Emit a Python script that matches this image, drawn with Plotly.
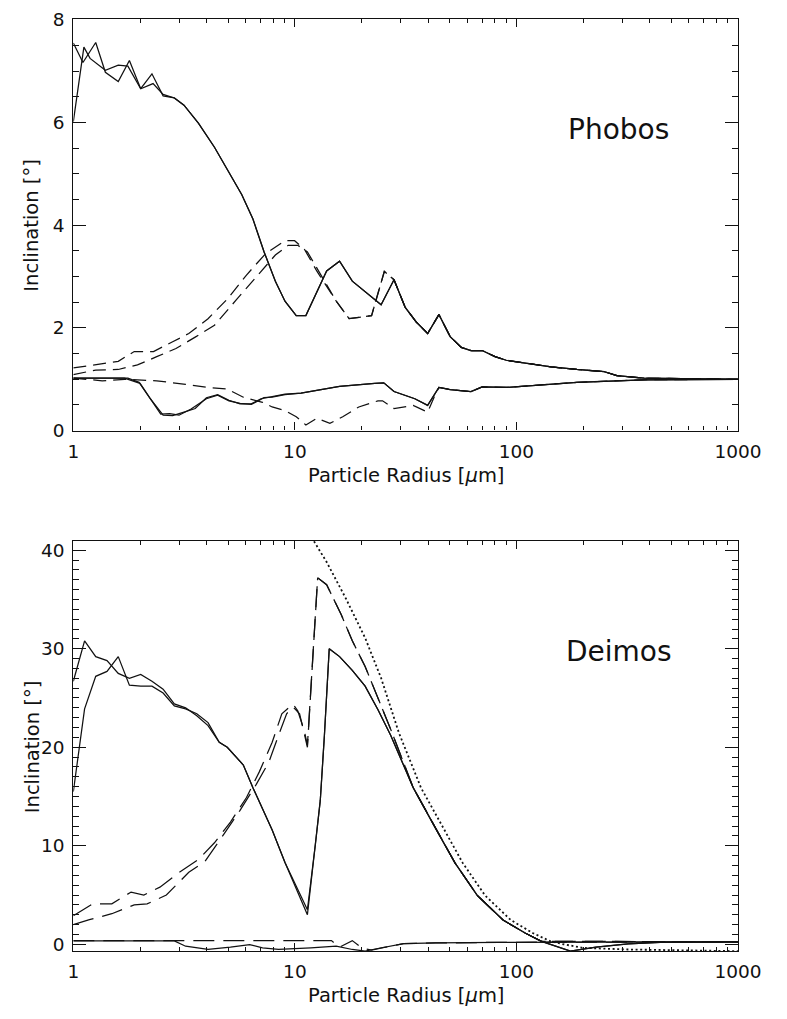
import plotly.graph_objects as go

# ---------------- Phobos (upper panel) ----------------
# maximum inclination, two runs (solid)
ph_max1_r = [1.000, 1.105, 1.262, 1.395, 1.595, 1.791, 2.014, 2.264, 2.542]
ph_max1_i = [7.55, 7.17, 7.56, 6.98, 6.80, 7.21, 6.66, 6.95, 6.52]
ph_max2_r = [1.000, 1.116, 1.190, 1.395, 1.595, 1.763, 2.014, 2.290, 2.542]
ph_max2_i = [6.02, 7.47, 7.25, 7.02, 7.12, 7.10, 6.66, 6.76, 6.55]
ph_max_tail_r = [2.857, 3.158, 3.668, 4.335, 5.037, 5.753, 6.466, 7.262, 8.164, 9.022,
                 10.14, 11.21, 13.91, 15.91, 18.16, 24.5, 28.01, 31.48, 35.39, 39.74,
                 44.67, 50.22, 56.39, 62.32, 70.04, 80.06, 89.95, 117.5, 143.5, 187.3,
                 248.7, 284.0, 376.9, 1000.0]
ph_max_tail_i = [6.48, 6.34, 5.99, 5.52, 5.04, 4.60, 4.12, 3.48, 2.91, 2.52,
                 2.24, 2.24, 3.11, 3.30, 2.91, 2.45, 2.94, 2.40, 2.11, 1.89,
                 2.26, 1.83, 1.62, 1.56, 1.56, 1.44, 1.37, 1.30, 1.24, 1.19,
                 1.15, 1.07, 1.02, 1.00]

# maximum inclination, second model (dashed)
ph_dmax1_r = [1.0, 1.221, 1.595, 1.883, 2.300, 2.808, 3.320, 4.055, 4.952, 6.047,
              7.386, 9.022, 9.970, 11.02, 12.59, 15.37, 17.58, 22.19, 25.33, 28.01]
ph_dmax1_i = [1.22, 1.28, 1.35, 1.54, 1.54, 1.73, 1.89, 2.18, 2.56, 3.03,
              3.45, 3.70, 3.70, 3.54, 3.10, 2.52, 2.18, 2.24, 3.10, 2.94]
ph_dmax2_r = [1.0, 1.262, 1.595, 1.948, 2.379, 2.906, 3.549, 4.335, 5.472, 6.683,
              8.164, 9.324, 10.30, 11.39, 12.59]
ph_dmax2_i = [1.09, 1.18, 1.19, 1.28, 1.44, 1.60, 1.82, 2.05, 2.56, 3.00,
              3.42, 3.61, 3.61, 3.48, 3.15]

# minimum inclination (solid)
ph_min1_r = [1.0, 1.763, 1.980, 2.225, 2.542, 2.808, 3.158, 3.549, 3.986, 4.480,
             5.037, 5.655, 6.357, 7.026, 7.897, 9.022]
ph_min1_i = [1.02, 1.02, 0.94, 0.62, 0.30, 0.29, 0.36, 0.43, 0.64, 0.70,
             0.59, 0.52, 0.52, 0.62, 0.66, 0.71]
ph_min2_r = [1.0, 1.70, 2.00, 2.25, 2.48, 2.72, 3.00, 3.40, 3.986, 4.48,
             5.04, 5.66, 6.36, 6.85, 7.25, 7.90, 9.022]
ph_min2_i = [1.02, 1.02, 0.92, 0.58, 0.32, 0.33, 0.30, 0.42, 0.62, 0.69,
             0.58, 0.53, 0.51, 0.58, 0.64, 0.65, 0.70]
ph_min_tail_r = [10.66, 15.91, 22.94, 25.19, 28.01, 34.79, 39.74, 44.67, 50.22, 62.32,
                 70.04, 89.95, 187.3, 376.9, 1000.0]
ph_min_tail_i = [0.73, 0.86, 0.92, 0.93, 0.76, 0.62, 0.49, 0.84, 0.80, 0.76,
                 0.85, 0.84, 0.94, 0.99, 1.00]

# minimum inclination, second model (dashed)
ph_dmin_r = [1.0, 1.350, 1.703, 2.379, 3.212, 4.055, 4.952, 5.852, 7.146, 7.897,
             9.022, 10.14, 11.21, 12.59, 14.39, 16.44, 19.43, 23.72, 24.87, 28.01,
             34.20, 39.74, 42.49]
ph_dmin_i = [1.02, 0.97, 1.00, 0.97, 0.90, 0.84, 0.81, 0.65, 0.55, 0.46,
             0.39, 0.27, 0.11, 0.24, 0.14, 0.27, 0.46, 0.58, 0.58, 0.43,
             0.49, 0.36, 0.65]

# ---------------- Deimos (lower panel) ----------------
de_head_r = [1.0, 1.124, 1.262, 1.419, 1.595, 1.791, 2.014, 2.264, 2.542, 2.857,
             3.212, 3.607, 4.055]
de_max1_i = [26.7, 30.8, 29.2, 28.8, 27.5, 27.0, 27.4, 26.7, 25.9, 24.4,
             24.0, 23.2, 22.2]
de_max2_i = [15.5, 23.9, 27.2, 27.7, 29.2, 26.3, 26.2, 26.2, 25.5, 24.2,
             23.9, 23.4, 22.5]
de_drop_r = [4.557, 4.952, 5.852, 6.466, 7.897, 9.022]
de_drop_i = [20.5, 20.0, 18.2, 15.9, 11.6, 8.3]
de_min_r = [11.39]
de_min1_i = [3.5]
de_min2_i = [3.0]
de_rise_r = [12.38, 13.02, 13.59, 14.29, 15.91, 18.16, 20.75, 23.72, 27.09]
de_rise_i = [10.2, 14.6, 21.2, 30.0, 29.2, 27.8, 26.2, 23.8, 21.2]
de_conv_r = [34.20, 43.22, 52.79, 66.64, 87.02, 109.9, 129.8]
de_conv_i = [15.9, 11.74, 8.26, 4.95, 2.46, 1.12, 0.30]
de_end_r = [175.2, 228.7, 319.3, 445.4, 1000.0]
de_end_i = [-0.70, -0.30, 0.03, 0.20, 0.25]

de_dmax1_r = [1.0, 1.221, 1.492, 1.822, 2.081, 2.459, 3.003, 3.668, 4.335, 5.119,
              6.047, 6.908, 7.897, 8.730, 9.802, 10.30, 11.02, 11.39]
de_dmax1_i = [2.9, 4.1, 4.1, 5.3, 5.0, 5.8, 7.3, 8.6, 10.3, 12.4,
              14.9, 17.5, 20.5, 23.4, 24.4, 23.7, 21.7, 20.2]
de_dmax2_r = [1.0, 1.182, 1.492, 1.883, 2.153, 2.630, 3.320, 3.924, 4.790, 5.655,
              6.683, 7.634, 8.437, 9.177, 9.802, 10.50, 11.02, 11.39]
de_dmax2_i = [2.0, 2.5, 3.1, 4.0, 4.1, 5.0, 7.3, 8.4, 11.2, 13.6,
              16.2, 18.5, 21.2, 23.4, 24.1, 23.4, 21.4, 20.0]
de_dpeak_r = [12.67, 13.91, 16.16, 18.16, 20.75, 23.72, 27.09]
de_dpeak_i = [37.2, 36.5, 33.5, 30.8, 28.2, 25.0, 21.8]
de_dend_r = [1000.0]
de_dend_i = [0.25]

de_min_sol_r = [1.0, 2.857, 3.212, 4.055, 5.119, 6.251, 7.146, 8.437, 11.79, 15.37,
                18.16, 20.75, 23.72, 27.09, 30.95, 43.22, 84.11, 1000.0]
de_min_sol_i = [0.35, 0.35, -0.2, -0.53, -0.3, -0.03, -0.37, -0.53, -0.37, -0.2,
                -0.53, -0.7, -0.43, -0.2, 0.07, 0.13, 0.20, 0.25]
de_min_dash_r = [1.0, 14.62, 15.91, 18.16, 20.0, 22.2, 25.0, 30.95, 43.22, 84.11, 1000.0]
de_min_dash_i = [0.37, 0.37, -0.3, 0.37, -0.37, -0.6, -0.35, 0.07, 0.13, 0.20, 0.25]

# analytic limit (dotted)
de_lim_r = [12.2, 13.91, 16.99, 20.75, 24.52, 29.44, 37.06, 46.8, 57.2, 72.2,
            94.3, 119.0, 142.5, 163.0, 200.0, 319.3, 621.4, 1000.0]
de_lim_i = [40.9, 38.8, 35.1, 31.1, 27.0, 21.5, 15.9, 11.74, 8.26, 4.95,
            2.46, 1.12, 0.30, 0.0, -0.37, -0.53, -0.63, -0.70]

X_TICKS = [1, 10, 100, 1000]
X_MINOR = [m * d for d in (1, 10, 100) for m in range(2, 10)]

FONT = "DejaVu Sans"
INK = "#111111"

fig = go.Figure()


def line(xs, ys, panel, dash="solid", width=1.25):
    ax = "" if panel == 1 else "2"
    fig.add_trace(go.Scatter(
        x=xs, y=ys, mode="lines", xaxis="x" + ax, yaxis="y" + ax,
        line=dict(color=INK, width=width, dash=dash), showlegend=False,
        hoverinfo="skip"))


# upper panel curves
DASH_P = "13px,7px"
line(ph_max1_r + ph_max_tail_r, ph_max1_i + ph_max_tail_i, 1)
line(ph_max2_r + ph_max_tail_r, ph_max2_i + ph_max_tail_i, 1)
k = ph_max_tail_r.index(28.01)
line(ph_dmax1_r + ph_max_tail_r[k + 1:], ph_dmax1_i + ph_max_tail_i[k + 1:], 1, DASH_P)
j = ph_dmax1_r.index(15.37)
line(ph_dmax2_r + ph_dmax1_r[j:] + ph_max_tail_r[k + 1:],
     ph_dmax2_i + ph_dmax1_i[j:] + ph_max_tail_i[k + 1:], 1, DASH_P)
line(ph_min1_r + ph_min_tail_r, ph_min1_i + ph_min_tail_i, 1)
line(ph_min2_r + ph_min_tail_r, ph_min2_i + ph_min_tail_i, 1)
m = ph_min_tail_r.index(44.67)
line(ph_dmin_r + ph_min_tail_r[m:], ph_dmin_i + ph_min_tail_i[m:], 1, DASH_P)

# lower panel curves
DASH_D = "21px,9px"
common_r = de_drop_r + de_min_r + de_rise_r + de_conv_r + de_end_r
line(de_head_r + common_r, de_max1_i + de_drop_i + de_min1_i + de_rise_i + de_conv_i + de_end_i, 2)
line(de_head_r + common_r, de_max2_i + de_drop_i + de_min2_i + de_rise_i + de_conv_i + de_end_i, 2)
line(de_dmax1_r + de_dpeak_r + de_conv_r + de_dend_r,
     de_dmax1_i + de_dpeak_i + de_conv_i + de_dend_i, 2, DASH_D)
line(de_dmax2_r + de_dpeak_r + de_conv_r + de_dend_r,
     de_dmax2_i + de_dpeak_i + de_conv_i + de_dend_i, 2, DASH_D)
line(de_min_sol_r, de_min_sol_i, 2)
line(de_min_dash_r, de_min_dash_i, 2, DASH_D)
line(de_lim_r, de_lim_i, 2, "2px,2.6px", width=1.8)

# ---------------- layout ----------------
W, H = 787, 1019
X0, X1 = 70, 761
top_y = (9.5, 429)
bot_y = (541.7, 960)


def xdom():
    return [X0 / W, X1 / W]


def ydom(px):
    return [1 - px[1] / H, 1 - px[0] / H]


def xaxis_style(anchor):
    return dict(
        type="log", range=[0, 3], domain=xdom(), anchor=anchor,
        showline=True, linecolor=INK, linewidth=1.2, mirror="ticks",
        ticks="inside", ticklen=8, tickwidth=1, tickcolor=INK,
        tickvals=X_TICKS, ticktext=[str(v) for v in X_TICKS],
        ticklabelstandoff=4, ticklabeloverflow="allow",
        minor=dict(tickmode="array", tickvals=X_MINOR, ticks="inside",
                   ticklen=4, tickwidth=1, tickcolor=INK, showgrid=False),
        showgrid=False, zeroline=False,
        tickfont=dict(family=FONT, size=18.5, color=INK))


def yaxis_style(anchor, rng, dom, major, minor_step):
    return dict(
        range=rng, domain=dom, anchor=anchor,
        showline=True, linecolor=INK, linewidth=1.2, mirror="ticks",
        ticks="inside", ticklen=13, tickwidth=1, tickcolor=INK,
        tickvals=major, ticktext=[str(v) for v in major],
        ticklabelstandoff=4, ticklabeloverflow="allow",
        minor=dict(dtick=minor_step, tick0=0, ticks="inside", ticklen=6,
                   tickwidth=1, tickcolor=INK, showgrid=False),
        showgrid=False, zeroline=False,
        tickfont=dict(family=FONT, size=18.5, color=INK))


fig.update_layout(
    width=W, height=H, autosize=False,
    margin=dict(l=0, r=0, t=0, b=0),
    paper_bgcolor="white", plot_bgcolor="white",
    xaxis=xaxis_style("y"),
    yaxis=yaxis_style("x", [0, 8.012], ydom(top_y), [0, 2, 4, 6, 8], 0.5),
    xaxis2=xaxis_style("y2"),
    yaxis2=yaxis_style("x2", [-0.7, 40.93], ydom(bot_y), [0, 10, 20, 30, 40], 1),
)

xc = (X0 + X1) / 2 / W
title_font = dict(family=FONT, size=19.5, color=INK)
label_font = dict(family=FONT, size=28, color=INK)
ann = [
    dict(text="Phobos", x=637 / W, y=1 - 122 / H, font=label_font),
    dict(text="Deimos", x=637 / W, y=1 - 654 / H, font=label_font),
    dict(text="Particle Radius [<i>μ</i>m]", x=xc, y=1 - 475 / H, font=title_font),
    dict(text="Particle Radius [<i>μ</i>m]", x=xc, y=1 - 1005 / H, font=title_font),
    dict(text="Inclination [°]", x=27 / W, y=1 - 219 / H, textangle=-90, font=title_font),
    dict(text="Inclination [°]", x=27 / W, y=1 - 751 / H, textangle=-90, font=title_font),
]
for a in ann:
    a.update(xref="paper", yref="paper", showarrow=False, xanchor="center", yanchor="middle")
fig.update_layout(annotations=ann)

fig.write_html("out.html")
